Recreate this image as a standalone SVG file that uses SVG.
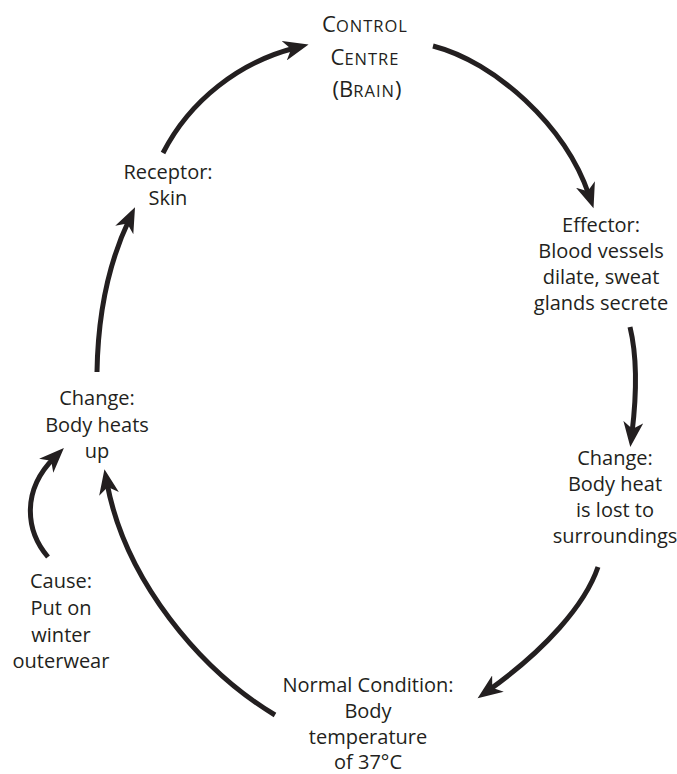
<svg xmlns="http://www.w3.org/2000/svg" width="677" height="774" viewBox="0 0 677 774">
<defs>
<style>
text{font-family:"Open Sans","Noto Sans","Liberation Sans",sans-serif;font-size:20px;fill:#231f20;text-anchor:middle}
.big{font-size:22px}
.sc{font-size:16.5px;letter-spacing:1px}
.arr{fill:none;stroke:#231f20;stroke-width:5;stroke-linecap:butt;marker-end:url(#ah)}
</style>
<marker id="ah" markerUnits="userSpaceOnUse" markerWidth="26" markerHeight="20" viewBox="0 0 26 20" refX="11" refY="10" orient="auto">
<path d="M25,10 L0,0 L7,10 L0,20 Z" fill="#231f20"/>
</marker>
</defs>
<rect width="677" height="774" fill="#fff"/>
<g id="connectors">
<path class="arr" d="M163,153 C190,100 240,62 295,48"/>
<path class="arr" d="M433,46 C495,62 565,125 589,195"/>
<path class="arr" d="M630,327 C638,360 636,400 632,433"/>
<path class="arr" d="M598,567 C585,605 545,650 489,690"/>
<path class="arr" d="M275,715 C200,670 125,580 107,483"/>
<path class="arr" d="M48,557 C25,530 22,490 54,458"/>
<path class="arr" d="M97,372 C98,310 110,260 129,220"/>
</g>
<g id="control-centre">
<text x="365" y="32"><tspan class="big">C</tspan><tspan class="sc">ONTROL</tspan></text>
<text x="365" y="65"><tspan class="big">C</tspan><tspan class="sc">ENTRE</tspan></text>
<text x="367" y="97"><tspan class="big">(B</tspan><tspan class="sc">RAIN</tspan><tspan class="big">)</tspan></text>
</g>
<g id="effector">
<text x="601" y="232">Effector:</text>
<text x="601" y="258">Blood vessels</text>
<text x="601" y="284">dilate, sweat</text>
<text x="601" y="310">glands secrete</text>
</g>
<g id="change-right">
<text x="615" y="465">Change:</text>
<text x="615" y="491">Body heat</text>
<text x="615" y="517">is lost to</text>
<text x="615" y="543">surroundings</text>
</g>
<g id="normal-condition">
<text x="368" y="692">Normal Condition:</text>
<text x="368" y="718">Body</text>
<text x="368" y="744">temperature</text>
<text x="368" y="769">of 37°C</text>
</g>
<g id="change-left">
<text x="97" y="405">Change:</text>
<text x="97" y="432">Body heats</text>
<text x="97" y="458">up</text>
</g>
<g id="cause">
<text x="61" y="588">Cause:</text>
<text x="61" y="615">Put on</text>
<text x="61" y="642">winter</text>
<text x="61" y="668">outerwear</text>
</g>
<g id="receptor">
<text x="168" y="179">Receptor:</text>
<text x="168" y="205">Skin</text>
</g>
</svg>
